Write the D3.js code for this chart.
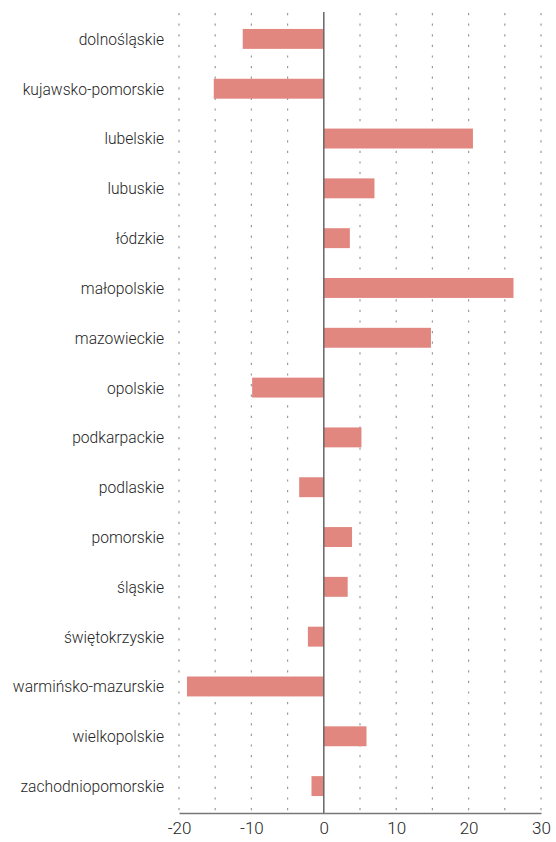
<!DOCTYPE html>
<html>
<head>
<meta charset="utf-8">
<script src="https://cdn.jsdelivr.net/npm/d3@7"></script>
<style>
  body { margin: 0; background: #fff; }
  text { font-family: Roboto, sans-serif; font-weight: 300; }
</style>
</head>
<body>
<svg id="chart" width="556" height="842"></svg>
<script>
var regions = ["dolnośląskie", "kujawsko-pomorskie", "lubelskie", "lubuskie", "łódzkie",
  "małopolskie", "mazowieckie", "opolskie", "podkarpackie", "podlaskie", "pomorskie",
  "śląskie", "świętokrzyskie", "warmińsko-mazurskie", "wielkopolskie", "zachodniopomorskie"];
var values = [-11.2, -15.2, 20.6, 7.0, 3.6, 26.2, 14.8, -9.9, 5.2, -3.4, 3.9, 3.3, -2.2, -18.9, 5.9, -1.7];
var xTicks = [-20, -10, 0, 10, 20, 30];
var gridTicks = [-20, -15, -10, -5, 5, 10, 15, 20, 25, 30];

var data = regions.map(function(r, i) { return {name: r, value: values[i]}; });

var svg = d3.select("#chart"),
    margin = {top: 14, left: 179},
    g = svg.append("g").attr("transform", "translate(" + margin.left + "," + margin.top + ")");

var x = d3.scaleLinear().domain([-20, 30]).range([0, 362]);
var y = d3.scaleBand().domain(regions).range([0, 797]).paddingInner(0.6).paddingOuter(0.3);

// dashed gridlines
g.append("g")
  .selectAll("line")
  .data(gridTicks)
  .enter().append("line")
    .attr("x1", function(d) { return x(d); })
    .attr("x2", function(d) { return x(d); })
    .attr("y1", -1)
    .attr("y2", 799)
    .attr("stroke", "#9a9a9a")
    .attr("stroke-width", 1.2)
    .attr("stroke-dasharray", "2.2,8.4");

// bars
g.selectAll(".bar")
  .data(data)
  .enter().append("rect")
    .attr("class", "bar")
    .attr("x", function(d) { return x(Math.min(0, d.value)); })
    .attr("y", function(d) { return y(d.name); })
    .attr("width", function(d) { return Math.abs(x(d.value) - x(0)); })
    .attr("height", y.bandwidth())
    .attr("fill", "#e2877f");

// zero line
g.append("line")
  .attr("x1", x(0)).attr("x2", x(0))
  .attr("y1", -2).attr("y2", 799)
  .attr("stroke", "#666")
  .attr("stroke-width", 1.5);

// category labels (narrowed a bit to look condensed)
g.selectAll(".label")
  .data(data)
  .enter().append("text")
    .attr("class", "label")
    .attr("transform", function(d) {
      return "translate(-15," + (y(d.name) + y.bandwidth() / 2) + ") scale(0.92,1)";
    })
    .attr("dy", "0.35em")
    .attr("text-anchor", "end")
    .attr("fill", "#1e1e1e")
    .style("font-size", "17px")
    .text(function(d) { return d.name; });

// x axis
var xAxis = g.append("g")
  .attr("transform", "translate(0,799)")
  .call(d3.axisBottom(x).tickValues(xTicks).tickSize(0).tickPadding(9)
    .tickFormat(function(d) { return String(d); }));
xAxis.select(".domain").attr("stroke", "#777").attr("stroke-width", 1.5);
xAxis.selectAll("text")
  .attr("fill", "#1e1e1e")
  .style("font-size", "17px")
  .style("font-family", "Roboto, sans-serif")
  .style("font-weight", 300);
</script>
</body>
</html>
